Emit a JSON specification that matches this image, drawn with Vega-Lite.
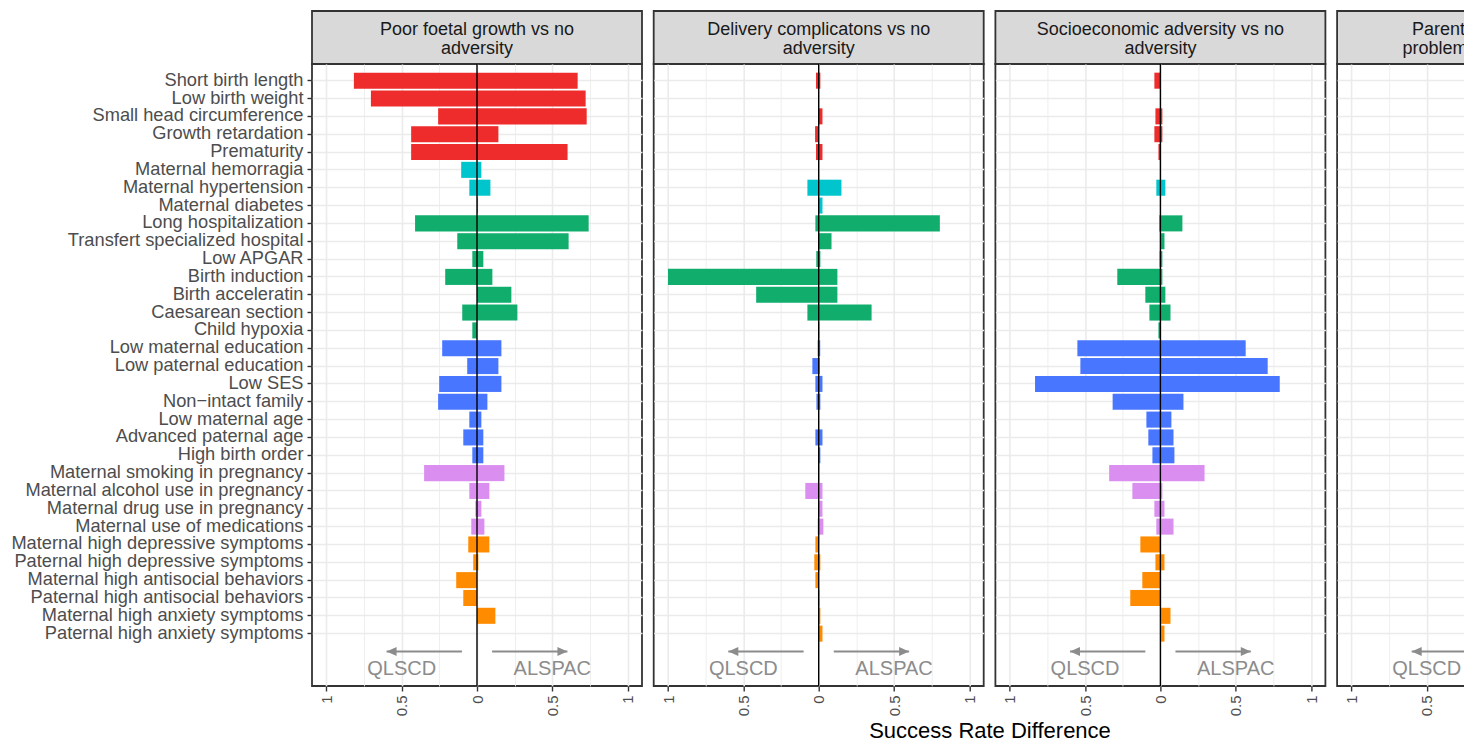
{
  "$schema": "https://vega.github.io/schema/vega-lite/v6.json",
  "background": "white",
  "padding": {"left": 9, "top": 10, "right": 0, "bottom": 0},
  "config": {
    "font": "Liberation Sans",
    "text": {"font": "Liberation Sans"},
    "axis": {"labelFont": "Liberation Sans"}
  },
  "title": {"text": "Success Rate Difference", "orient": "bottom", "anchor": "middle", "fontSize": 22, "fontWeight": "normal", "color": "#000000", "font": "Liberation Sans", "dx": 151, "offset": 4},
  "columns": 4,
  "spacing": {"row": 0, "column": 11.7},
  "bounds": "flush",
  "datasets": {
    "strips": [
      {"panel": "Poor foetal growth vs no adversity", "lines": ["Poor foetal growth vs no", "adversity"]},
      {"panel": "Delivery complicatons vs no adversity", "lines": ["Delivery complicatons vs no", "adversity"]},
      {"panel": "Socioeconomic adversity vs no adversity", "lines": ["Socioeconomic adversity vs no", "adversity"]},
      {"panel": "Parental mental health problems vs no adversity", "lines": ["Parental mental health", "problems vs no adversity"]}
    ],
    "notes": [
      {"panel": "Poor foetal growth vs no adversity", "item": "_arrow", "study": "QLSCD", "from": -0.1, "to": -0.6},
      {"panel": "Poor foetal growth vs no adversity", "item": "_arrow", "study": "ALSPAC", "from": 0.1, "to": 0.6},
      {"panel": "Poor foetal growth vs no adversity", "item": "_label", "study": "QLSCD", "pos": -0.5},
      {"panel": "Poor foetal growth vs no adversity", "item": "_label", "study": "ALSPAC", "pos": 0.5},
      {"panel": "Delivery complicatons vs no adversity", "item": "_arrow", "study": "QLSCD", "from": -0.1, "to": -0.6},
      {"panel": "Delivery complicatons vs no adversity", "item": "_arrow", "study": "ALSPAC", "from": 0.1, "to": 0.6},
      {"panel": "Delivery complicatons vs no adversity", "item": "_label", "study": "QLSCD", "pos": -0.5},
      {"panel": "Delivery complicatons vs no adversity", "item": "_label", "study": "ALSPAC", "pos": 0.5},
      {"panel": "Socioeconomic adversity vs no adversity", "item": "_arrow", "study": "QLSCD", "from": -0.1, "to": -0.6},
      {"panel": "Socioeconomic adversity vs no adversity", "item": "_arrow", "study": "ALSPAC", "from": 0.1, "to": 0.6},
      {"panel": "Socioeconomic adversity vs no adversity", "item": "_label", "study": "QLSCD", "pos": -0.5},
      {"panel": "Socioeconomic adversity vs no adversity", "item": "_label", "study": "ALSPAC", "pos": 0.5},
      {"panel": "Parental mental health problems vs no adversity", "item": "_arrow", "study": "QLSCD", "from": -0.1, "to": -0.6},
      {"panel": "Parental mental health problems vs no adversity", "item": "_arrow", "study": "ALSPAC", "from": 0.1, "to": 0.6},
      {"panel": "Parental mental health problems vs no adversity", "item": "_label", "study": "QLSCD", "pos": -0.5},
      {"panel": "Parental mental health problems vs no adversity", "item": "_label", "study": "ALSPAC", "pos": 0.5}
    ],
    "bars": [
      {"panel": "Poor foetal growth vs no adversity", "item": "Short birth length", "group": "Poor foetal growth", "study": "QLSCD", "diff": -0.817},
      {"panel": "Poor foetal growth vs no adversity", "item": "Short birth length", "group": "Poor foetal growth", "study": "ALSPAC", "diff": 0.668},
      {"panel": "Poor foetal growth vs no adversity", "item": "Low birth weight", "group": "Poor foetal growth", "study": "QLSCD", "diff": -0.704},
      {"panel": "Poor foetal growth vs no adversity", "item": "Low birth weight", "group": "Poor foetal growth", "study": "ALSPAC", "diff": 0.721},
      {"panel": "Poor foetal growth vs no adversity", "item": "Small head circumference", "group": "Poor foetal growth", "study": "QLSCD", "diff": -0.258},
      {"panel": "Poor foetal growth vs no adversity", "item": "Small head circumference", "group": "Poor foetal growth", "study": "ALSPAC", "diff": 0.728},
      {"panel": "Poor foetal growth vs no adversity", "item": "Growth retardation", "group": "Poor foetal growth", "study": "QLSCD", "diff": -0.437},
      {"panel": "Poor foetal growth vs no adversity", "item": "Growth retardation", "group": "Poor foetal growth", "study": "ALSPAC", "diff": 0.142},
      {"panel": "Poor foetal growth vs no adversity", "item": "Prematurity", "group": "Poor foetal growth", "study": "QLSCD", "diff": -0.437},
      {"panel": "Poor foetal growth vs no adversity", "item": "Prematurity", "group": "Poor foetal growth", "study": "ALSPAC", "diff": 0.601},
      {"panel": "Poor foetal growth vs no adversity", "item": "Maternal hemorragia", "group": "Pregnancy complications", "study": "QLSCD", "diff": -0.105},
      {"panel": "Poor foetal growth vs no adversity", "item": "Maternal hemorragia", "group": "Pregnancy complications", "study": "ALSPAC", "diff": 0.029},
      {"panel": "Poor foetal growth vs no adversity", "item": "Maternal hypertension", "group": "Pregnancy complications", "study": "QLSCD", "diff": -0.051},
      {"panel": "Poor foetal growth vs no adversity", "item": "Maternal hypertension", "group": "Pregnancy complications", "study": "ALSPAC", "diff": 0.089},
      {"panel": "Poor foetal growth vs no adversity", "item": "Maternal diabetes", "group": "Pregnancy complications", "study": "ALSPAC", "diff": 0.006},
      {"panel": "Poor foetal growth vs no adversity", "item": "Long hospitalization", "group": "Delivery complications", "study": "QLSCD", "diff": -0.411},
      {"panel": "Poor foetal growth vs no adversity", "item": "Long hospitalization", "group": "Delivery complications", "study": "ALSPAC", "diff": 0.741},
      {"panel": "Poor foetal growth vs no adversity", "item": "Transfert specialized hospital", "group": "Delivery complications", "study": "QLSCD", "diff": -0.131},
      {"panel": "Poor foetal growth vs no adversity", "item": "Transfert specialized hospital", "group": "Delivery complications", "study": "ALSPAC", "diff": 0.608},
      {"panel": "Poor foetal growth vs no adversity", "item": "Low APGAR", "group": "Delivery complications", "study": "QLSCD", "diff": -0.031},
      {"panel": "Poor foetal growth vs no adversity", "item": "Low APGAR", "group": "Delivery complications", "study": "ALSPAC", "diff": 0.042},
      {"panel": "Poor foetal growth vs no adversity", "item": "Birth induction", "group": "Delivery complications", "study": "QLSCD", "diff": -0.211},
      {"panel": "Poor foetal growth vs no adversity", "item": "Birth induction", "group": "Delivery complications", "study": "ALSPAC", "diff": 0.102},
      {"panel": "Poor foetal growth vs no adversity", "item": "Birth acceleratin", "group": "Delivery complications", "study": "ALSPAC", "diff": 0.228},
      {"panel": "Poor foetal growth vs no adversity", "item": "Caesarean section", "group": "Delivery complications", "study": "QLSCD", "diff": -0.098},
      {"panel": "Poor foetal growth vs no adversity", "item": "Caesarean section", "group": "Delivery complications", "study": "ALSPAC", "diff": 0.268},
      {"panel": "Poor foetal growth vs no adversity", "item": "Child hypoxia", "group": "Delivery complications", "study": "QLSCD", "diff": -0.031},
      {"panel": "Poor foetal growth vs no adversity", "item": "Low maternal education", "group": "Socioeconomic adversity", "study": "QLSCD", "diff": -0.231},
      {"panel": "Poor foetal growth vs no adversity", "item": "Low maternal education", "group": "Socioeconomic adversity", "study": "ALSPAC", "diff": 0.162},
      {"panel": "Poor foetal growth vs no adversity", "item": "Low paternal education", "group": "Socioeconomic adversity", "study": "QLSCD", "diff": -0.065},
      {"panel": "Poor foetal growth vs no adversity", "item": "Low paternal education", "group": "Socioeconomic adversity", "study": "ALSPAC", "diff": 0.142},
      {"panel": "Poor foetal growth vs no adversity", "item": "Low SES", "group": "Socioeconomic adversity", "study": "QLSCD", "diff": -0.251},
      {"panel": "Poor foetal growth vs no adversity", "item": "Low SES", "group": "Socioeconomic adversity", "study": "ALSPAC", "diff": 0.162},
      {"panel": "Poor foetal growth vs no adversity", "item": "Non−intact family", "group": "Socioeconomic adversity", "study": "QLSCD", "diff": -0.258},
      {"panel": "Poor foetal growth vs no adversity", "item": "Non−intact family", "group": "Socioeconomic adversity", "study": "ALSPAC", "diff": 0.069},
      {"panel": "Poor foetal growth vs no adversity", "item": "Low maternal age", "group": "Socioeconomic adversity", "study": "QLSCD", "diff": -0.051},
      {"panel": "Poor foetal growth vs no adversity", "item": "Low maternal age", "group": "Socioeconomic adversity", "study": "ALSPAC", "diff": 0.029},
      {"panel": "Poor foetal growth vs no adversity", "item": "Advanced paternal age", "group": "Socioeconomic adversity", "study": "QLSCD", "diff": -0.091},
      {"panel": "Poor foetal growth vs no adversity", "item": "Advanced paternal age", "group": "Socioeconomic adversity", "study": "ALSPAC", "diff": 0.042},
      {"panel": "Poor foetal growth vs no adversity", "item": "High birth order", "group": "Socioeconomic adversity", "study": "QLSCD", "diff": -0.031},
      {"panel": "Poor foetal growth vs no adversity", "item": "High birth order", "group": "Socioeconomic adversity", "study": "ALSPAC", "diff": 0.042},
      {"panel": "Poor foetal growth vs no adversity", "item": "Maternal smoking in pregnancy", "group": "Substance use in pregnancy", "study": "QLSCD", "diff": -0.351},
      {"panel": "Poor foetal growth vs no adversity", "item": "Maternal smoking in pregnancy", "group": "Substance use in pregnancy", "study": "ALSPAC", "diff": 0.182},
      {"panel": "Poor foetal growth vs no adversity", "item": "Maternal alcohol use in pregnancy", "group": "Substance use in pregnancy", "study": "QLSCD", "diff": -0.051},
      {"panel": "Poor foetal growth vs no adversity", "item": "Maternal alcohol use in pregnancy", "group": "Substance use in pregnancy", "study": "ALSPAC", "diff": 0.082},
      {"panel": "Poor foetal growth vs no adversity", "item": "Maternal drug use in pregnancy", "group": "Substance use in pregnancy", "study": "QLSCD", "diff": -0.011},
      {"panel": "Poor foetal growth vs no adversity", "item": "Maternal drug use in pregnancy", "group": "Substance use in pregnancy", "study": "ALSPAC", "diff": 0.029},
      {"panel": "Poor foetal growth vs no adversity", "item": "Maternal use of medications", "group": "Substance use in pregnancy", "study": "QLSCD", "diff": -0.038},
      {"panel": "Poor foetal growth vs no adversity", "item": "Maternal use of medications", "group": "Substance use in pregnancy", "study": "ALSPAC", "diff": 0.049},
      {"panel": "Poor foetal growth vs no adversity", "item": "Maternal high depressive symptoms", "group": "Parental mental health", "study": "QLSCD", "diff": -0.058},
      {"panel": "Poor foetal growth vs no adversity", "item": "Maternal high depressive symptoms", "group": "Parental mental health", "study": "ALSPAC", "diff": 0.082},
      {"panel": "Poor foetal growth vs no adversity", "item": "Paternal high depressive symptoms", "group": "Parental mental health", "study": "QLSCD", "diff": -0.025},
      {"panel": "Poor foetal growth vs no adversity", "item": "Paternal high depressive symptoms", "group": "Parental mental health", "study": "ALSPAC", "diff": 0.009},
      {"panel": "Poor foetal growth vs no adversity", "item": "Maternal high antisocial behaviors", "group": "Parental mental health", "study": "QLSCD", "diff": -0.138},
      {"panel": "Poor foetal growth vs no adversity", "item": "Paternal high antisocial behaviors", "group": "Parental mental health", "study": "QLSCD", "diff": -0.091},
      {"panel": "Poor foetal growth vs no adversity", "item": "Maternal high anxiety symptoms", "group": "Parental mental health", "study": "ALSPAC", "diff": 0.122},

      {"panel": "Delivery complicatons vs no adversity", "item": "Short birth length", "group": "Poor foetal growth", "study": "QLSCD", "diff": -0.018},
      {"panel": "Delivery complicatons vs no adversity", "item": "Short birth length", "group": "Poor foetal growth", "study": "ALSPAC", "diff": 0.011},
      {"panel": "Delivery complicatons vs no adversity", "item": "Small head circumference", "group": "Poor foetal growth", "study": "ALSPAC", "diff": 0.025},
      {"panel": "Delivery complicatons vs no adversity", "item": "Growth retardation", "group": "Poor foetal growth", "study": "QLSCD", "diff": -0.024},
      {"panel": "Delivery complicatons vs no adversity", "item": "Prematurity", "group": "Poor foetal growth", "study": "QLSCD", "diff": -0.018},
      {"panel": "Delivery complicatons vs no adversity", "item": "Prematurity", "group": "Poor foetal growth", "study": "ALSPAC", "diff": 0.025},
      {"panel": "Delivery complicatons vs no adversity", "item": "Maternal hypertension", "group": "Pregnancy complications", "study": "QLSCD", "diff": -0.075},
      {"panel": "Delivery complicatons vs no adversity", "item": "Maternal hypertension", "group": "Pregnancy complications", "study": "ALSPAC", "diff": 0.151},
      {"panel": "Delivery complicatons vs no adversity", "item": "Maternal diabetes", "group": "Pregnancy complications", "study": "ALSPAC", "diff": 0.025},
      {"panel": "Delivery complicatons vs no adversity", "item": "Long hospitalization", "group": "Delivery complications", "study": "QLSCD", "diff": -0.022},
      {"panel": "Delivery complicatons vs no adversity", "item": "Long hospitalization", "group": "Delivery complications", "study": "ALSPAC", "diff": 0.804},
      {"panel": "Delivery complicatons vs no adversity", "item": "Transfert specialized hospital", "group": "Delivery complications", "study": "QLSCD", "diff": -0.004},
      {"panel": "Delivery complicatons vs no adversity", "item": "Transfert specialized hospital", "group": "Delivery complications", "study": "ALSPAC", "diff": 0.085},
      {"panel": "Delivery complicatons vs no adversity", "item": "Low APGAR", "group": "Delivery complications", "study": "QLSCD", "diff": -0.016},
      {"panel": "Delivery complicatons vs no adversity", "item": "Low APGAR", "group": "Delivery complications", "study": "ALSPAC", "diff": 0.011},
      {"panel": "Delivery complicatons vs no adversity", "item": "Birth induction", "group": "Delivery complications", "study": "QLSCD", "diff": -1.0},
      {"panel": "Delivery complicatons vs no adversity", "item": "Birth induction", "group": "Delivery complications", "study": "ALSPAC", "diff": 0.124},
      {"panel": "Delivery complicatons vs no adversity", "item": "Birth acceleratin", "group": "Delivery complications", "study": "QLSCD", "diff": -0.415},
      {"panel": "Delivery complicatons vs no adversity", "item": "Birth acceleratin", "group": "Delivery complications", "study": "ALSPAC", "diff": 0.124},
      {"panel": "Delivery complicatons vs no adversity", "item": "Caesarean section", "group": "Delivery complications", "study": "QLSCD", "diff": -0.075},
      {"panel": "Delivery complicatons vs no adversity", "item": "Caesarean section", "group": "Delivery complications", "study": "ALSPAC", "diff": 0.351},
      {"panel": "Delivery complicatons vs no adversity", "item": "Child hypoxia", "group": "Delivery complications", "study": "QLSCD", "diff": -0.004},
      {"panel": "Delivery complicatons vs no adversity", "item": "Child hypoxia", "group": "Delivery complications", "study": "ALSPAC", "diff": 0.004},
      {"panel": "Delivery complicatons vs no adversity", "item": "Low maternal education", "group": "Socioeconomic adversity", "study": "QLSCD", "diff": -0.007},
      {"panel": "Delivery complicatons vs no adversity", "item": "Low maternal education", "group": "Socioeconomic adversity", "study": "ALSPAC", "diff": 0.01},
      {"panel": "Delivery complicatons vs no adversity", "item": "Low paternal education", "group": "Socioeconomic adversity", "study": "QLSCD", "diff": -0.042},
      {"panel": "Delivery complicatons vs no adversity", "item": "Low paternal education", "group": "Socioeconomic adversity", "study": "ALSPAC", "diff": 0.007},
      {"panel": "Delivery complicatons vs no adversity", "item": "Low SES", "group": "Socioeconomic adversity", "study": "QLSCD", "diff": -0.022},
      {"panel": "Delivery complicatons vs no adversity", "item": "Low SES", "group": "Socioeconomic adversity", "study": "ALSPAC", "diff": 0.025},
      {"panel": "Delivery complicatons vs no adversity", "item": "Non−intact family", "group": "Socioeconomic adversity", "study": "QLSCD", "diff": -0.015},
      {"panel": "Delivery complicatons vs no adversity", "item": "Non−intact family", "group": "Socioeconomic adversity", "study": "ALSPAC", "diff": 0.011},
      {"panel": "Delivery complicatons vs no adversity", "item": "Advanced paternal age", "group": "Socioeconomic adversity", "study": "QLSCD", "diff": -0.022},
      {"panel": "Delivery complicatons vs no adversity", "item": "Advanced paternal age", "group": "Socioeconomic adversity", "study": "ALSPAC", "diff": 0.025},
      {"panel": "Delivery complicatons vs no adversity", "item": "High birth order", "group": "Socioeconomic adversity", "study": "ALSPAC", "diff": 0.011},
      {"panel": "Delivery complicatons vs no adversity", "item": "Maternal smoking in pregnancy", "group": "Substance use in pregnancy", "study": "QLSCD", "diff": -0.004},
      {"panel": "Delivery complicatons vs no adversity", "item": "Maternal smoking in pregnancy", "group": "Substance use in pregnancy", "study": "ALSPAC", "diff": 0.004},
      {"panel": "Delivery complicatons vs no adversity", "item": "Maternal alcohol use in pregnancy", "group": "Substance use in pregnancy", "study": "QLSCD", "diff": -0.089},
      {"panel": "Delivery complicatons vs no adversity", "item": "Maternal alcohol use in pregnancy", "group": "Substance use in pregnancy", "study": "ALSPAC", "diff": 0.025},
      {"panel": "Delivery complicatons vs no adversity", "item": "Maternal drug use in pregnancy", "group": "Substance use in pregnancy", "study": "ALSPAC", "diff": 0.025},
      {"panel": "Delivery complicatons vs no adversity", "item": "Maternal use of medications", "group": "Substance use in pregnancy", "study": "QLSCD", "diff": -0.007},
      {"panel": "Delivery complicatons vs no adversity", "item": "Maternal use of medications", "group": "Substance use in pregnancy", "study": "ALSPAC", "diff": 0.031},
      {"panel": "Delivery complicatons vs no adversity", "item": "Maternal high depressive symptoms", "group": "Parental mental health", "study": "QLSCD", "diff": -0.022},
      {"panel": "Delivery complicatons vs no adversity", "item": "Paternal high depressive symptoms", "group": "Parental mental health", "study": "QLSCD", "diff": -0.029},
      {"panel": "Delivery complicatons vs no adversity", "item": "Paternal high depressive symptoms", "group": "Parental mental health", "study": "ALSPAC", "diff": 0.011},
      {"panel": "Delivery complicatons vs no adversity", "item": "Maternal high antisocial behaviors", "group": "Parental mental health", "study": "QLSCD", "diff": -0.022},
      {"panel": "Delivery complicatons vs no adversity", "item": "Paternal high antisocial behaviors", "group": "Parental mental health", "study": "QLSCD", "diff": -0.005},
      {"panel": "Delivery complicatons vs no adversity", "item": "Paternal high antisocial behaviors", "group": "Parental mental health", "study": "ALSPAC", "diff": 0.005},
      {"panel": "Delivery complicatons vs no adversity", "item": "Maternal high anxiety symptoms", "group": "Parental mental health", "study": "ALSPAC", "diff": 0.011},
      {"panel": "Delivery complicatons vs no adversity", "item": "Paternal high anxiety symptoms", "group": "Parental mental health", "study": "ALSPAC", "diff": 0.025},

      {"panel": "Socioeconomic adversity vs no adversity", "item": "Short birth length", "group": "Poor foetal growth", "study": "QLSCD", "diff": -0.04},
      {"panel": "Socioeconomic adversity vs no adversity", "item": "Small head circumference", "group": "Poor foetal growth", "study": "QLSCD", "diff": -0.033},
      {"panel": "Socioeconomic adversity vs no adversity", "item": "Small head circumference", "group": "Poor foetal growth", "study": "ALSPAC", "diff": 0.013},
      {"panel": "Socioeconomic adversity vs no adversity", "item": "Growth retardation", "group": "Poor foetal growth", "study": "QLSCD", "diff": -0.04},
      {"panel": "Socioeconomic adversity vs no adversity", "item": "Growth retardation", "group": "Poor foetal growth", "study": "ALSPAC", "diff": 0.013},
      {"panel": "Socioeconomic adversity vs no adversity", "item": "Prematurity", "group": "Poor foetal growth", "study": "QLSCD", "diff": -0.013},
      {"panel": "Socioeconomic adversity vs no adversity", "item": "Maternal hypertension", "group": "Pregnancy complications", "study": "QLSCD", "diff": -0.027},
      {"panel": "Socioeconomic adversity vs no adversity", "item": "Maternal hypertension", "group": "Pregnancy complications", "study": "ALSPAC", "diff": 0.033},
      {"panel": "Socioeconomic adversity vs no adversity", "item": "Long hospitalization", "group": "Delivery complications", "study": "QLSCD", "diff": -0.007},
      {"panel": "Socioeconomic adversity vs no adversity", "item": "Long hospitalization", "group": "Delivery complications", "study": "ALSPAC", "diff": 0.146},
      {"panel": "Socioeconomic adversity vs no adversity", "item": "Transfert specialized hospital", "group": "Delivery complications", "study": "ALSPAC", "diff": 0.027},
      {"panel": "Socioeconomic adversity vs no adversity", "item": "Low APGAR", "group": "Delivery complications", "study": "QLSCD", "diff": -0.005},
      {"panel": "Socioeconomic adversity vs no adversity", "item": "Low APGAR", "group": "Delivery complications", "study": "ALSPAC", "diff": 0.013},
      {"panel": "Socioeconomic adversity vs no adversity", "item": "Birth induction", "group": "Delivery complications", "study": "QLSCD", "diff": -0.286},
      {"panel": "Socioeconomic adversity vs no adversity", "item": "Birth induction", "group": "Delivery complications", "study": "ALSPAC", "diff": 0.013},
      {"panel": "Socioeconomic adversity vs no adversity", "item": "Birth acceleratin", "group": "Delivery complications", "study": "QLSCD", "diff": -0.1},
      {"panel": "Socioeconomic adversity vs no adversity", "item": "Birth acceleratin", "group": "Delivery complications", "study": "ALSPAC", "diff": 0.033},
      {"panel": "Socioeconomic adversity vs no adversity", "item": "Caesarean section", "group": "Delivery complications", "study": "QLSCD", "diff": -0.073},
      {"panel": "Socioeconomic adversity vs no adversity", "item": "Caesarean section", "group": "Delivery complications", "study": "ALSPAC", "diff": 0.067},
      {"panel": "Socioeconomic adversity vs no adversity", "item": "Child hypoxia", "group": "Delivery complications", "study": "QLSCD", "diff": -0.013},
      {"panel": "Socioeconomic adversity vs no adversity", "item": "Low maternal education", "group": "Socioeconomic adversity", "study": "QLSCD", "diff": -0.551},
      {"panel": "Socioeconomic adversity vs no adversity", "item": "Low maternal education", "group": "Socioeconomic adversity", "study": "ALSPAC", "diff": 0.566},
      {"panel": "Socioeconomic adversity vs no adversity", "item": "Low paternal education", "group": "Socioeconomic adversity", "study": "QLSCD", "diff": -0.531},
      {"panel": "Socioeconomic adversity vs no adversity", "item": "Low paternal education", "group": "Socioeconomic adversity", "study": "ALSPAC", "diff": 0.712},
      {"panel": "Socioeconomic adversity vs no adversity", "item": "Low SES", "group": "Socioeconomic adversity", "study": "QLSCD", "diff": -0.832},
      {"panel": "Socioeconomic adversity vs no adversity", "item": "Low SES", "group": "Socioeconomic adversity", "study": "ALSPAC", "diff": 0.792},
      {"panel": "Socioeconomic adversity vs no adversity", "item": "Non−intact family", "group": "Socioeconomic adversity", "study": "QLSCD", "diff": -0.317},
      {"panel": "Socioeconomic adversity vs no adversity", "item": "Non−intact family", "group": "Socioeconomic adversity", "study": "ALSPAC", "diff": 0.153},
      {"panel": "Socioeconomic adversity vs no adversity", "item": "Low maternal age", "group": "Socioeconomic adversity", "study": "QLSCD", "diff": -0.093},
      {"panel": "Socioeconomic adversity vs no adversity", "item": "Low maternal age", "group": "Socioeconomic adversity", "study": "ALSPAC", "diff": 0.073},
      {"panel": "Socioeconomic adversity vs no adversity", "item": "Advanced paternal age", "group": "Socioeconomic adversity", "study": "QLSCD", "diff": -0.08},
      {"panel": "Socioeconomic adversity vs no adversity", "item": "Advanced paternal age", "group": "Socioeconomic adversity", "study": "ALSPAC", "diff": 0.087},
      {"panel": "Socioeconomic adversity vs no adversity", "item": "High birth order", "group": "Socioeconomic adversity", "study": "QLSCD", "diff": -0.053},
      {"panel": "Socioeconomic adversity vs no adversity", "item": "High birth order", "group": "Socioeconomic adversity", "study": "ALSPAC", "diff": 0.093},
      {"panel": "Socioeconomic adversity vs no adversity", "item": "Maternal smoking in pregnancy", "group": "Substance use in pregnancy", "study": "QLSCD", "diff": -0.34},
      {"panel": "Socioeconomic adversity vs no adversity", "item": "Maternal smoking in pregnancy", "group": "Substance use in pregnancy", "study": "ALSPAC", "diff": 0.293},
      {"panel": "Socioeconomic adversity vs no adversity", "item": "Maternal alcohol use in pregnancy", "group": "Substance use in pregnancy", "study": "QLSCD", "diff": -0.186},
      {"panel": "Socioeconomic adversity vs no adversity", "item": "Maternal alcohol use in pregnancy", "group": "Substance use in pregnancy", "study": "ALSPAC", "diff": 0.013},
      {"panel": "Socioeconomic adversity vs no adversity", "item": "Maternal drug use in pregnancy", "group": "Substance use in pregnancy", "study": "QLSCD", "diff": -0.04},
      {"panel": "Socioeconomic adversity vs no adversity", "item": "Maternal drug use in pregnancy", "group": "Substance use in pregnancy", "study": "ALSPAC", "diff": 0.027},
      {"panel": "Socioeconomic adversity vs no adversity", "item": "Maternal use of medications", "group": "Substance use in pregnancy", "study": "QLSCD", "diff": -0.027},
      {"panel": "Socioeconomic adversity vs no adversity", "item": "Maternal use of medications", "group": "Substance use in pregnancy", "study": "ALSPAC", "diff": 0.087},
      {"panel": "Socioeconomic adversity vs no adversity", "item": "Maternal high depressive symptoms", "group": "Parental mental health", "study": "QLSCD", "diff": -0.133},
      {"panel": "Socioeconomic adversity vs no adversity", "item": "Paternal high depressive symptoms", "group": "Parental mental health", "study": "QLSCD", "diff": -0.033},
      {"panel": "Socioeconomic adversity vs no adversity", "item": "Paternal high depressive symptoms", "group": "Parental mental health", "study": "ALSPAC", "diff": 0.027},
      {"panel": "Socioeconomic adversity vs no adversity", "item": "Maternal high antisocial behaviors", "group": "Parental mental health", "study": "QLSCD", "diff": -0.12},
      {"panel": "Socioeconomic adversity vs no adversity", "item": "Paternal high antisocial behaviors", "group": "Parental mental health", "study": "QLSCD", "diff": -0.2},
      {"panel": "Socioeconomic adversity vs no adversity", "item": "Maternal high anxiety symptoms", "group": "Parental mental health", "study": "ALSPAC", "diff": 0.067},
      {"panel": "Socioeconomic adversity vs no adversity", "item": "Paternal high anxiety symptoms", "group": "Parental mental health", "study": "ALSPAC", "diff": 0.027}
    ]
  },
  "concat": [
    {
      "width": 330, "height": 53,
      "view": {"fill": "#D9D9D9", "stroke": "#333333", "strokeWidth": 1.8},
      "data": {"name": "strips"},
      "transform": [{"filter": {"field": "panel", "equal": "Poor foetal growth vs no adversity"}}],
      "mark": {"type": "text", "fontSize": 18, "color": "#1A1A1A", "lineHeight": 19, "baseline": "alphabetic", "dy": -2.5},
      "encoding": {"text": {"field": "lines", "type": "nominal"}}
    },
    {
      "width": 330, "height": 53,
      "view": {"fill": "#D9D9D9", "stroke": "#333333", "strokeWidth": 1.8},
      "data": {"name": "strips"},
      "transform": [{"filter": {"field": "panel", "equal": "Delivery complicatons vs no adversity"}}],
      "mark": {"type": "text", "fontSize": 18, "color": "#1A1A1A", "lineHeight": 19, "baseline": "alphabetic", "dy": -2.5},
      "encoding": {"text": {"field": "lines", "type": "nominal"}}
    },
    {
      "width": 330, "height": 53,
      "view": {"fill": "#D9D9D9", "stroke": "#333333", "strokeWidth": 1.8},
      "data": {"name": "strips"},
      "transform": [{"filter": {"field": "panel", "equal": "Socioeconomic adversity vs no adversity"}}],
      "mark": {"type": "text", "fontSize": 18, "color": "#1A1A1A", "lineHeight": 19, "baseline": "alphabetic", "dy": -2.5},
      "encoding": {"text": {"field": "lines", "type": "nominal"}}
    },
    {
      "width": 330, "height": 53,
      "view": {"fill": "#D9D9D9", "stroke": "#333333", "strokeWidth": 1.8},
      "data": {"name": "strips"},
      "transform": [{"filter": {"field": "panel", "equal": "Parental mental health problems vs no adversity"}}],
      "mark": {"type": "text", "fontSize": 18, "color": "#1A1A1A", "lineHeight": 19, "baseline": "alphabetic", "dy": -2.5},
      "encoding": {"text": {"field": "lines", "type": "nominal"}}
    },
    {
      "width": 330, "height": 622,
      "view": {"fill": "white", "stroke": "#333333", "strokeWidth": 1.8},
      "layer": [
        {
          "data": {"name": "bars"},
          "transform": [{"filter": {"field": "panel", "equal": "Poor foetal growth vs no adversity"}}],
          "mark": {"type": "bar"},
          "encoding": {
            "x": {"field": "diff", "type": "quantitative", "scale": {"domain": [-1.095, 1.095], "nice": false, "zero": false},
              "axis": {"values": [-1, -0.75, -0.5, -0.25, 0, 0.25, 0.5, 0.75, 1], "title": null, "domain": false, "labelAngle": 270, "labelFontSize": 15, "labelColor": "#4D4D4D", "labelPadding": 4, "labelFlush": false, "labelOverlap": false,
                "labelExpr": "abs(datum.value) % 0.5 != 0 ? '' : '' + abs(datum.value)",
                "tickSize": 5, "tickColor": "#333333", "tickWidth": 1.4,
                "tickOpacity": {"condition": {"test": "abs(datum.value) % 0.5 != 0", "value": 0}, "value": 1},
                "grid": true, "gridColor": "#EBEBEB",
                "gridWidth": {"condition": {"test": "abs(datum.value) % 0.5 != 0", "value": 0.8}, "value": 1.6}}},
            "y": {"field": "item", "type": "nominal",
              "scale": {"domain": ["Short birth length", "Low birth weight", "Small head circumference", "Growth retardation", "Prematurity", "Maternal hemorragia", "Maternal hypertension", "Maternal diabetes", "Long hospitalization", "Transfert specialized hospital", "Low APGAR", "Birth induction", "Birth acceleratin", "Caesarean section", "Child hypoxia", "Low maternal education", "Low paternal education", "Low SES", "Non−intact family", "Low maternal age", "Advanced paternal age", "High birth order", "Maternal smoking in pregnancy", "Maternal alcohol use in pregnancy", "Maternal drug use in pregnancy", "Maternal use of medications", "Maternal high depressive symptoms", "Paternal high depressive symptoms", "Maternal high antisocial behaviors", "Paternal high antisocial behaviors", "Maternal high anxiety symptoms", "Paternal high anxiety symptoms", "_arrow", "_label"], "paddingInner": 0.1, "paddingOuter": 0.485},
              "axis": {"values": ["Short birth length", "Low birth weight", "Small head circumference", "Growth retardation", "Prematurity", "Maternal hemorragia", "Maternal hypertension", "Maternal diabetes", "Long hospitalization", "Transfert specialized hospital", "Low APGAR", "Birth induction", "Birth acceleratin", "Caesarean section", "Child hypoxia", "Low maternal education", "Low paternal education", "Low SES", "Non−intact family", "Low maternal age", "Advanced paternal age", "High birth order", "Maternal smoking in pregnancy", "Maternal alcohol use in pregnancy", "Maternal drug use in pregnancy", "Maternal use of medications", "Maternal high depressive symptoms", "Paternal high depressive symptoms", "Maternal high antisocial behaviors", "Paternal high antisocial behaviors", "Maternal high anxiety symptoms", "Paternal high anxiety symptoms"],
                "title": null, "domain": false, "bandPosition": 0.5, "labelFontSize": 18.25, "labelColor": "#4D4D4D", "labelPadding": 4, "labelLimit": 0, "labelOverlap": false,
                "tickSize": 5, "tickColor": "#333333", "tickWidth": 1.4, "grid": true, "gridColor": "#EBEBEB", "gridWidth": 1.6}},
            "color": {"field": "group", "type": "nominal", "legend": null,
              "scale": {"domain": ["Poor foetal growth", "Pregnancy complications", "Delivery complications", "Socioeconomic adversity", "Substance use in pregnancy", "Parental mental health"], "range": ["#EE2C2C", "#00C5CD", "#10AD6D", "#4876FF", "#D98EF0", "#FF8C00"]}}
          }
        },
        {
          "data": {"name": "notes"},
          "transform": [{"filter": {"and": [{"field": "panel", "equal": "Poor foetal growth vs no adversity"}, {"field": "item", "equal": "_arrow"}]}}],
          "mark": {"type": "rule", "color": "#8C8C8C", "strokeWidth": 2.2},
          "encoding": {"x": {"field": "from", "type": "quantitative"}, "x2": {"field": "to"}, "y": {"field": "item", "type": "nominal"}}
        },
        {
          "data": {"name": "notes"},
          "transform": [{"filter": {"and": [{"field": "panel", "equal": "Poor foetal growth vs no adversity"}, {"field": "item", "equal": "_arrow"}]}}],
          "mark": {"type": "point", "filled": true, "color": "#8C8C8C", "opacity": 1, "size": 400, "strokeWidth": 0},
          "encoding": {"x": {"field": "to", "type": "quantitative"}, "y": {"field": "item", "type": "nominal"},
            "shape": {"field": "study", "type": "nominal", "legend": null, "scale": {"domain": ["QLSCD", "ALSPAC"], "range": ["M0,0L1,-0.45L1,0.45Z", "M0,0L-1,-0.45L-1,0.45Z"]}}}
        },
        {
          "data": {"name": "notes"},
          "transform": [{"filter": {"and": [{"field": "panel", "equal": "Poor foetal growth vs no adversity"}, {"field": "item", "equal": "_label"}]}}],
          "mark": {"type": "text", "fontSize": 20, "color": "#8C8C8C"},
          "encoding": {"x": {"field": "pos", "type": "quantitative"}, "y": {"field": "item", "type": "nominal"}, "text": {"field": "study", "type": "nominal"}}
        },
        {
          "data": {"name": "strips"},
          "transform": [{"filter": {"field": "panel", "equal": "Poor foetal growth vs no adversity"}}],
          "mark": {"type": "rule", "color": "#000000", "strokeWidth": 1.4},
          "encoding": {"x": {"datum": 0, "type": "quantitative"}}
        }
      ]
    },
    {
      "width": 330, "height": 622,
      "view": {"fill": "white", "stroke": "#333333", "strokeWidth": 1.8},
      "layer": [
        {
          "data": {"name": "bars"},
          "transform": [{"filter": {"field": "panel", "equal": "Delivery complicatons vs no adversity"}}],
          "mark": {"type": "bar"},
          "encoding": {
            "x": {"field": "diff", "type": "quantitative", "scale": {"domain": [-1.095, 1.095], "nice": false, "zero": false},
              "axis": {"values": [-1, -0.75, -0.5, -0.25, 0, 0.25, 0.5, 0.75, 1], "title": null, "domain": false, "labelAngle": 270, "labelFontSize": 15, "labelColor": "#4D4D4D", "labelPadding": 4, "labelFlush": false, "labelOverlap": false,
                "labelExpr": "abs(datum.value) % 0.5 != 0 ? '' : '' + abs(datum.value)",
                "tickSize": 5, "tickColor": "#333333", "tickWidth": 1.4,
                "tickOpacity": {"condition": {"test": "abs(datum.value) % 0.5 != 0", "value": 0}, "value": 1},
                "grid": true, "gridColor": "#EBEBEB",
                "gridWidth": {"condition": {"test": "abs(datum.value) % 0.5 != 0", "value": 0.8}, "value": 1.6}}},
            "y": {"field": "item", "type": "nominal",
              "scale": {"domain": ["Short birth length", "Low birth weight", "Small head circumference", "Growth retardation", "Prematurity", "Maternal hemorragia", "Maternal hypertension", "Maternal diabetes", "Long hospitalization", "Transfert specialized hospital", "Low APGAR", "Birth induction", "Birth acceleratin", "Caesarean section", "Child hypoxia", "Low maternal education", "Low paternal education", "Low SES", "Non−intact family", "Low maternal age", "Advanced paternal age", "High birth order", "Maternal smoking in pregnancy", "Maternal alcohol use in pregnancy", "Maternal drug use in pregnancy", "Maternal use of medications", "Maternal high depressive symptoms", "Paternal high depressive symptoms", "Maternal high antisocial behaviors", "Paternal high antisocial behaviors", "Maternal high anxiety symptoms", "Paternal high anxiety symptoms", "_arrow", "_label"], "paddingInner": 0.1, "paddingOuter": 0.485},
              "axis": {"values": ["Short birth length", "Low birth weight", "Small head circumference", "Growth retardation", "Prematurity", "Maternal hemorragia", "Maternal hypertension", "Maternal diabetes", "Long hospitalization", "Transfert specialized hospital", "Low APGAR", "Birth induction", "Birth acceleratin", "Caesarean section", "Child hypoxia", "Low maternal education", "Low paternal education", "Low SES", "Non−intact family", "Low maternal age", "Advanced paternal age", "High birth order", "Maternal smoking in pregnancy", "Maternal alcohol use in pregnancy", "Maternal drug use in pregnancy", "Maternal use of medications", "Maternal high depressive symptoms", "Paternal high depressive symptoms", "Maternal high antisocial behaviors", "Paternal high antisocial behaviors", "Maternal high anxiety symptoms", "Paternal high anxiety symptoms"],
                "title": null, "domain": false, "bandPosition": 0.5, "labels": false, "ticks": false, "grid": true, "gridColor": "#EBEBEB", "gridWidth": 1.6}},
            "color": {"field": "group", "type": "nominal", "legend": null,
              "scale": {"domain": ["Poor foetal growth", "Pregnancy complications", "Delivery complications", "Socioeconomic adversity", "Substance use in pregnancy", "Parental mental health"], "range": ["#EE2C2C", "#00C5CD", "#10AD6D", "#4876FF", "#D98EF0", "#FF8C00"]}}
          }
        },
        {
          "data": {"name": "notes"},
          "transform": [{"filter": {"and": [{"field": "panel", "equal": "Delivery complicatons vs no adversity"}, {"field": "item", "equal": "_arrow"}]}}],
          "mark": {"type": "rule", "color": "#8C8C8C", "strokeWidth": 2.2},
          "encoding": {"x": {"field": "from", "type": "quantitative"}, "x2": {"field": "to"}, "y": {"field": "item", "type": "nominal"}}
        },
        {
          "data": {"name": "notes"},
          "transform": [{"filter": {"and": [{"field": "panel", "equal": "Delivery complicatons vs no adversity"}, {"field": "item", "equal": "_arrow"}]}}],
          "mark": {"type": "point", "filled": true, "color": "#8C8C8C", "opacity": 1, "size": 400, "strokeWidth": 0},
          "encoding": {"x": {"field": "to", "type": "quantitative"}, "y": {"field": "item", "type": "nominal"},
            "shape": {"field": "study", "type": "nominal", "legend": null, "scale": {"domain": ["QLSCD", "ALSPAC"], "range": ["M0,0L1,-0.45L1,0.45Z", "M0,0L-1,-0.45L-1,0.45Z"]}}}
        },
        {
          "data": {"name": "notes"},
          "transform": [{"filter": {"and": [{"field": "panel", "equal": "Delivery complicatons vs no adversity"}, {"field": "item", "equal": "_label"}]}}],
          "mark": {"type": "text", "fontSize": 20, "color": "#8C8C8C"},
          "encoding": {"x": {"field": "pos", "type": "quantitative"}, "y": {"field": "item", "type": "nominal"}, "text": {"field": "study", "type": "nominal"}}
        },
        {
          "data": {"name": "strips"},
          "transform": [{"filter": {"field": "panel", "equal": "Delivery complicatons vs no adversity"}}],
          "mark": {"type": "rule", "color": "#000000", "strokeWidth": 1.4},
          "encoding": {"x": {"datum": 0, "type": "quantitative"}}
        }
      ]
    },
    {
      "width": 330, "height": 622,
      "view": {"fill": "white", "stroke": "#333333", "strokeWidth": 1.8},
      "layer": [
        {
          "data": {"name": "bars"},
          "transform": [{"filter": {"field": "panel", "equal": "Socioeconomic adversity vs no adversity"}}],
          "mark": {"type": "bar"},
          "encoding": {
            "x": {"field": "diff", "type": "quantitative", "scale": {"domain": [-1.095, 1.095], "nice": false, "zero": false},
              "axis": {"values": [-1, -0.75, -0.5, -0.25, 0, 0.25, 0.5, 0.75, 1], "title": null, "domain": false, "labelAngle": 270, "labelFontSize": 15, "labelColor": "#4D4D4D", "labelPadding": 4, "labelFlush": false, "labelOverlap": false,
                "labelExpr": "abs(datum.value) % 0.5 != 0 ? '' : '' + abs(datum.value)",
                "tickSize": 5, "tickColor": "#333333", "tickWidth": 1.4,
                "tickOpacity": {"condition": {"test": "abs(datum.value) % 0.5 != 0", "value": 0}, "value": 1},
                "grid": true, "gridColor": "#EBEBEB",
                "gridWidth": {"condition": {"test": "abs(datum.value) % 0.5 != 0", "value": 0.8}, "value": 1.6}}},
            "y": {"field": "item", "type": "nominal",
              "scale": {"domain": ["Short birth length", "Low birth weight", "Small head circumference", "Growth retardation", "Prematurity", "Maternal hemorragia", "Maternal hypertension", "Maternal diabetes", "Long hospitalization", "Transfert specialized hospital", "Low APGAR", "Birth induction", "Birth acceleratin", "Caesarean section", "Child hypoxia", "Low maternal education", "Low paternal education", "Low SES", "Non−intact family", "Low maternal age", "Advanced paternal age", "High birth order", "Maternal smoking in pregnancy", "Maternal alcohol use in pregnancy", "Maternal drug use in pregnancy", "Maternal use of medications", "Maternal high depressive symptoms", "Paternal high depressive symptoms", "Maternal high antisocial behaviors", "Paternal high antisocial behaviors", "Maternal high anxiety symptoms", "Paternal high anxiety symptoms", "_arrow", "_label"], "paddingInner": 0.1, "paddingOuter": 0.485},
              "axis": {"values": ["Short birth length", "Low birth weight", "Small head circumference", "Growth retardation", "Prematurity", "Maternal hemorragia", "Maternal hypertension", "Maternal diabetes", "Long hospitalization", "Transfert specialized hospital", "Low APGAR", "Birth induction", "Birth acceleratin", "Caesarean section", "Child hypoxia", "Low maternal education", "Low paternal education", "Low SES", "Non−intact family", "Low maternal age", "Advanced paternal age", "High birth order", "Maternal smoking in pregnancy", "Maternal alcohol use in pregnancy", "Maternal drug use in pregnancy", "Maternal use of medications", "Maternal high depressive symptoms", "Paternal high depressive symptoms", "Maternal high antisocial behaviors", "Paternal high antisocial behaviors", "Maternal high anxiety symptoms", "Paternal high anxiety symptoms"],
                "title": null, "domain": false, "bandPosition": 0.5, "labels": false, "ticks": false, "grid": true, "gridColor": "#EBEBEB", "gridWidth": 1.6}},
            "color": {"field": "group", "type": "nominal", "legend": null,
              "scale": {"domain": ["Poor foetal growth", "Pregnancy complications", "Delivery complications", "Socioeconomic adversity", "Substance use in pregnancy", "Parental mental health"], "range": ["#EE2C2C", "#00C5CD", "#10AD6D", "#4876FF", "#D98EF0", "#FF8C00"]}}
          }
        },
        {
          "data": {"name": "notes"},
          "transform": [{"filter": {"and": [{"field": "panel", "equal": "Socioeconomic adversity vs no adversity"}, {"field": "item", "equal": "_arrow"}]}}],
          "mark": {"type": "rule", "color": "#8C8C8C", "strokeWidth": 2.2},
          "encoding": {"x": {"field": "from", "type": "quantitative"}, "x2": {"field": "to"}, "y": {"field": "item", "type": "nominal"}}
        },
        {
          "data": {"name": "notes"},
          "transform": [{"filter": {"and": [{"field": "panel", "equal": "Socioeconomic adversity vs no adversity"}, {"field": "item", "equal": "_arrow"}]}}],
          "mark": {"type": "point", "filled": true, "color": "#8C8C8C", "opacity": 1, "size": 400, "strokeWidth": 0},
          "encoding": {"x": {"field": "to", "type": "quantitative"}, "y": {"field": "item", "type": "nominal"},
            "shape": {"field": "study", "type": "nominal", "legend": null, "scale": {"domain": ["QLSCD", "ALSPAC"], "range": ["M0,0L1,-0.45L1,0.45Z", "M0,0L-1,-0.45L-1,0.45Z"]}}}
        },
        {
          "data": {"name": "notes"},
          "transform": [{"filter": {"and": [{"field": "panel", "equal": "Socioeconomic adversity vs no adversity"}, {"field": "item", "equal": "_label"}]}}],
          "mark": {"type": "text", "fontSize": 20, "color": "#8C8C8C"},
          "encoding": {"x": {"field": "pos", "type": "quantitative"}, "y": {"field": "item", "type": "nominal"}, "text": {"field": "study", "type": "nominal"}}
        },
        {
          "data": {"name": "strips"},
          "transform": [{"filter": {"field": "panel", "equal": "Socioeconomic adversity vs no adversity"}}],
          "mark": {"type": "rule", "color": "#000000", "strokeWidth": 1.4},
          "encoding": {"x": {"datum": 0, "type": "quantitative"}}
        }
      ]
    },
    {
      "width": 330, "height": 622,
      "view": {"fill": "white", "stroke": "#333333", "strokeWidth": 1.8},
      "layer": [
        {
          "data": {"name": "notes"},
          "transform": [{"filter": {"and": [{"field": "panel", "equal": "Parental mental health problems vs no adversity"}, {"field": "item", "equal": "_arrow"}]}}],
          "mark": {"type": "rule", "color": "#8C8C8C", "strokeWidth": 2.2},
          "encoding": {
            "x": {"field": "from", "type": "quantitative", "scale": {"domain": [-1.095, 1.095], "nice": false, "zero": false},
              "axis": {"values": [-1, -0.75, -0.5, -0.25, 0, 0.25, 0.5, 0.75, 1], "title": null, "domain": false, "labelAngle": 270, "labelFontSize": 15, "labelColor": "#4D4D4D", "labelPadding": 4, "labelFlush": false, "labelOverlap": false,
                "labelExpr": "abs(datum.value) % 0.5 != 0 ? '' : '' + abs(datum.value)",
                "tickSize": 5, "tickColor": "#333333", "tickWidth": 1.4,
                "tickOpacity": {"condition": {"test": "abs(datum.value) % 0.5 != 0", "value": 0}, "value": 1},
                "grid": true, "gridColor": "#EBEBEB",
                "gridWidth": {"condition": {"test": "abs(datum.value) % 0.5 != 0", "value": 0.8}, "value": 1.6}}},
            "x2": {"field": "to"},
            "y": {"field": "item", "type": "nominal",
              "scale": {"domain": ["Short birth length", "Low birth weight", "Small head circumference", "Growth retardation", "Prematurity", "Maternal hemorragia", "Maternal hypertension", "Maternal diabetes", "Long hospitalization", "Transfert specialized hospital", "Low APGAR", "Birth induction", "Birth acceleratin", "Caesarean section", "Child hypoxia", "Low maternal education", "Low paternal education", "Low SES", "Non−intact family", "Low maternal age", "Advanced paternal age", "High birth order", "Maternal smoking in pregnancy", "Maternal alcohol use in pregnancy", "Maternal drug use in pregnancy", "Maternal use of medications", "Maternal high depressive symptoms", "Paternal high depressive symptoms", "Maternal high antisocial behaviors", "Paternal high antisocial behaviors", "Maternal high anxiety symptoms", "Paternal high anxiety symptoms", "_arrow", "_label"], "paddingInner": 0.1, "paddingOuter": 0.485},
              "axis": {"values": ["Short birth length", "Low birth weight", "Small head circumference", "Growth retardation", "Prematurity", "Maternal hemorragia", "Maternal hypertension", "Maternal diabetes", "Long hospitalization", "Transfert specialized hospital", "Low APGAR", "Birth induction", "Birth acceleratin", "Caesarean section", "Child hypoxia", "Low maternal education", "Low paternal education", "Low SES", "Non−intact family", "Low maternal age", "Advanced paternal age", "High birth order", "Maternal smoking in pregnancy", "Maternal alcohol use in pregnancy", "Maternal drug use in pregnancy", "Maternal use of medications", "Maternal high depressive symptoms", "Paternal high depressive symptoms", "Maternal high antisocial behaviors", "Paternal high antisocial behaviors", "Maternal high anxiety symptoms", "Paternal high anxiety symptoms"],
                "title": null, "domain": false, "bandPosition": 0.5, "labels": false, "ticks": false, "grid": true, "gridColor": "#EBEBEB", "gridWidth": 1.6}}
          }
        },
        {
          "data": {"name": "notes"},
          "transform": [{"filter": {"and": [{"field": "panel", "equal": "Parental mental health problems vs no adversity"}, {"field": "item", "equal": "_arrow"}]}}],
          "mark": {"type": "point", "filled": true, "color": "#8C8C8C", "opacity": 1, "size": 400, "strokeWidth": 0},
          "encoding": {"x": {"field": "to", "type": "quantitative"}, "y": {"field": "item", "type": "nominal"},
            "shape": {"field": "study", "type": "nominal", "legend": null, "scale": {"domain": ["QLSCD", "ALSPAC"], "range": ["M0,0L1,-0.45L1,0.45Z", "M0,0L-1,-0.45L-1,0.45Z"]}}}
        },
        {
          "data": {"name": "notes"},
          "transform": [{"filter": {"and": [{"field": "panel", "equal": "Parental mental health problems vs no adversity"}, {"field": "item", "equal": "_label"}]}}],
          "mark": {"type": "text", "fontSize": 20, "color": "#8C8C8C"},
          "encoding": {"x": {"field": "pos", "type": "quantitative"}, "y": {"field": "item", "type": "nominal"}, "text": {"field": "study", "type": "nominal"}}
        },
        {
          "data": {"name": "strips"},
          "transform": [{"filter": {"field": "panel", "equal": "Parental mental health problems vs no adversity"}}],
          "mark": {"type": "rule", "color": "#000000", "strokeWidth": 1.4},
          "encoding": {"x": {"datum": 0, "type": "quantitative"}}
        }
      ]
    }
  ]
}
